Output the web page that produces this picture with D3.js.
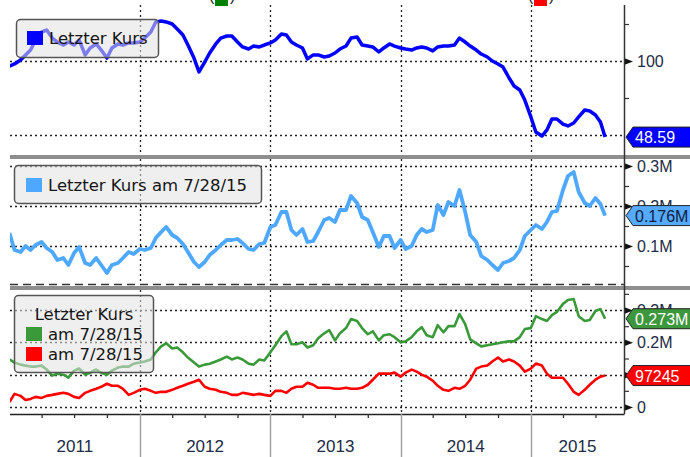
<!DOCTYPE html>
<html>
<head>
<meta charset="utf-8">
<script src="https://cdn.jsdelivr.net/npm/d3@7"></script>
<style>
body { margin: 0; background: #fff; }
svg text { font-family: "Liberation Sans", Arial, sans-serif; }
svg text.leg { font-family: "DejaVu Sans", Verdana, sans-serif; }
</style>
</head>
<body>
<svg width="690" height="457"></svg>
<script>
// sample dates: 1st and 15th of each month, Jan 2011 .. Jul 2015, plus last close 7/28/15
var dates = [];
d3.utcMonths(new Date(Date.UTC(2011, 0, 1)), new Date(Date.UTC(2015, 7, 1))).forEach(function (m) {
    dates.push(m);
    dates.push(d3.utcDay.offset(m, 14));
});
dates.push(new Date(Date.UTC(2015, 6, 28)));

// Letzter Kurs (price)
var price = [96.6, 98.0, 100.7, 104.1, 107.4, 114.2, 119.6, 120.9, 115.5, 112.8,
    110.8, 112.8, 110.8, 114.2, 104.1, 108.8, 111.5, 107.4, 102.0, 108.8,
    111.5, 110.8, 112.2, 112.2, 112.8, 115.5, 119.6, 126.4, 127.0, 126.4,
    125.0, 121.6, 117.6, 110.8, 102.0, 92.6, 99.3, 105.4, 111.5, 115.5,
    116.9, 116.9, 112.8, 109.5, 108.1, 110.1, 109.5, 110.8, 112.2, 114.2,
    118.2, 117.6, 112.8, 110.8, 108.8, 101.4, 104.1, 104.1, 102.7, 103.4,
    105.4, 108.1, 110.1, 115.5, 116.2, 110.8, 110.1, 109.5, 106.1, 108.8,
    111.5, 110.1, 108.8, 108.1, 107.4, 108.8, 109.5, 108.8, 106.8, 109.5,
    110.1, 110.1, 110.8, 115.5, 112.8, 110.1, 107.4, 104.7, 102.7, 100.0,
    98.0, 95.9, 88.5, 83.1, 80.4, 73.6, 62.2, 52.0, 49.3, 53.4,
    60.8, 60.8, 57.4, 56.1, 58.1, 62.2, 66.9, 66.2, 63.5, 58.8,
    48.59];

// Letzter Kurs am 7/28/15 (millions)
var volLight = [0.1325, 0.09, 0.085, 0.10, 0.09, 0.1025, 0.11, 0.095, 0.085, 0.065,
    0.07, 0.0525, 0.0825, 0.0975, 0.0575, 0.0525, 0.07, 0.0525, 0.0325, 0.0525,
    0.0575, 0.07, 0.085, 0.08, 0.0925, 0.09, 0.095, 0.12, 0.135, 0.1475,
    0.1275, 0.12, 0.105, 0.085, 0.06, 0.0475, 0.06, 0.0775, 0.09, 0.1025,
    0.115, 0.115, 0.1175, 0.1075, 0.0925, 0.09, 0.105, 0.1075, 0.1475, 0.1525,
    0.185, 0.185, 0.14, 0.1275, 0.1425, 0.11, 0.1125, 0.135, 0.165, 0.17,
    0.16, 0.19, 0.19, 0.225, 0.2075, 0.1725, 0.165, 0.135, 0.0975, 0.125,
    0.125, 0.095, 0.115, 0.0925, 0.10, 0.1275, 0.1425, 0.135, 0.14, 0.2025,
    0.1775, 0.21, 0.20, 0.24, 0.185, 0.1275, 0.11, 0.075, 0.065, 0.0525,
    0.04, 0.0575, 0.0625, 0.07, 0.09, 0.125, 0.14, 0.1525, 0.1425, 0.16,
    0.185, 0.1875, 0.24, 0.275, 0.285, 0.235, 0.2075, 0.20, 0.22, 0.205,
    0.176];

// lower panel (millions)
var volGreen = [0.147, 0.1375, 0.131, 0.128, 0.125, 0.125, 0.128, 0.116, 0.097, 0.103,
    0.10, 0.091, 0.1125, 0.119, 0.10, 0.106, 0.116, 0.106, 0.10, 0.1125,
    0.122, 0.125, 0.125, 0.134, 0.1375, 0.141, 0.147, 0.169, 0.1875, 0.197,
    0.181, 0.184, 0.169, 0.153, 0.1375, 0.125, 0.131, 0.134, 0.141, 0.147,
    0.156, 0.147, 0.153, 0.147, 0.134, 0.131, 0.147, 0.144, 0.169, 0.191,
    0.219, 0.234, 0.194, 0.194, 0.20, 0.184, 0.191, 0.2125, 0.228, 0.2375,
    0.206, 0.228, 0.244, 0.272, 0.266, 0.244, 0.225, 0.234, 0.206, 0.222,
    0.225, 0.216, 0.20, 0.203, 0.216, 0.234, 0.247, 0.222, 0.216, 0.253,
    0.231, 0.25, 0.25, 0.2875, 0.256, 0.209, 0.197, 0.1875, 0.191, 0.194,
    0.197, 0.20, 0.203, 0.203, 0.216, 0.241, 0.244, 0.281, 0.272, 0.266,
    0.284, 0.294, 0.319, 0.331, 0.334, 0.281, 0.266, 0.269, 0.297, 0.303,
    0.273];

var volRed = [0.0156, 0.0406, 0.0344, 0.0219, 0.025, 0.0313, 0.0281, 0.0344, 0.0375, 0.0406,
    0.0438, 0.0406, 0.0313, 0.0281, 0.0438, 0.05, 0.0563, 0.0625, 0.0719, 0.0656,
    0.0656, 0.0563, 0.0375, 0.0438, 0.0531, 0.0563, 0.05, 0.0438, 0.0469, 0.0469,
    0.0531, 0.0594, 0.0656, 0.0719, 0.0781, 0.0844, 0.0625, 0.0563, 0.0531, 0.0469,
    0.0438, 0.0375, 0.0375, 0.0438, 0.0406, 0.0375, 0.0406, 0.0375, 0.0344, 0.05,
    0.05, 0.0438, 0.0563, 0.0625, 0.0625, 0.075, 0.0688, 0.0594, 0.0594, 0.0594,
    0.0563, 0.0563, 0.0594, 0.0563, 0.0563, 0.0594, 0.0688, 0.0844, 0.1031, 0.1031,
    0.1031, 0.1063, 0.0938, 0.1063, 0.1156, 0.1094, 0.10, 0.0938, 0.0813, 0.0656,
    0.0531, 0.05, 0.0594, 0.0563, 0.0656, 0.0844, 0.1188, 0.125, 0.1281, 0.1406,
    0.1531, 0.1406, 0.1469, 0.1406, 0.1281, 0.1094, 0.1188, 0.1344, 0.1281, 0.1031,
    0.0906, 0.0906, 0.0906, 0.0719, 0.0469, 0.0375, 0.0531, 0.0688, 0.0844, 0.0938,
    0.0972];

var years = ["2011", "2012", "2013", "2014", "2015"];
var lastLabels = ["48.59", "0.176M", "0.273M", "97245"];

var svg = d3.select("svg");
var left = 10, right = 624;
var axisColor = "#222b45";

var x = d3.scaleUtc()
    .domain([new Date(Date.UTC(2011, 0, 1)), new Date(Date.UTC(2015, 8, 19))])
    .range([9.5, right]);

var y1 = d3.scaleLinear().domain([50, 100]).range([135, 61]);
var y2 = d3.scaleLinear().domain([0, 0.3]).range([286, 166]);
var y3 = d3.scaleLinear().domain([0, 0.3]).range([407, 310]);

var panels = [
    { top: 5, bottom: 155, y: y1, grid: [50, 100], minor: [75, 125], major: [100], fmt: d3.format("d") },
    { top: 159, bottom: 284, y: y2, grid: [0.1, 0.2, 0.3], minor: [0.05, 0.15, 0.25], major: [0.1, 0.2, 0.3], fmt: function (d) { return d3.format(".1f")(d) + "M"; } },
    { top: 290, bottom: 414, y: y3, grid: [0, 0.1, 0.2, 0.3], minor: [0.05, 0.15, 0.25, 0.35], major: [0, 0.1, 0.2, 0.3], fmt: function (d) { return d === 0 ? "0" : d3.format(".1f")(d) + "M"; } }
];

var yearStarts = [2012, 2013, 2014, 2015].map(function (yr) { return new Date(Date.UTC(yr, 0, 1)); });

panels.forEach(function (p, i) {
    svg.append("clipPath").attr("id", "clip" + i)
        .append("rect").attr("x", left).attr("y", p.top)
        .attr("width", right - left).attr("height", p.bottom - p.top);

    // horizontal grid
    svg.append("g").selectAll("line").data(p.grid).enter().append("line")
        .attr("x1", left).attr("x2", right)
        .attr("y1", function (d) { return Math.round(p.y(d)) + 0.5; })
        .attr("y2", function (d) { return Math.round(p.y(d)) + 0.5; })
        .attr("stroke", "#222").attr("stroke-width", 1.3)
        .attr("stroke-dasharray", "2,3");

    // vertical grid at years
    svg.append("g").selectAll("line").data(yearStarts).enter().append("line")
        .attr("x1", function (d) { return Math.round(x(d)) + 0.5; })
        .attr("x2", function (d) { return Math.round(x(d)) + 0.5; })
        .attr("y1", p.top).attr("y2", p.bottom)
        .attr("stroke", "#222").attr("stroke-width", 1.3)
        .attr("stroke-dasharray", "2,3");

    // minor ticks on right axis
    svg.append("g")
        .attr("transform", "translate(" + right + ",0)")
        .call(d3.axisRight(p.y).tickValues(p.minor).tickSize(5).tickFormat(""))
        .call(function (g) {
            g.select(".domain").remove();
            g.selectAll("line").attr("stroke", "#333").attr("stroke-width", 1.2);
        });

    // major ticks with arrows and labels
    var ax = svg.append("g")
        .attr("transform", "translate(" + right + ",0)")
        .call(d3.axisRight(p.y).tickValues(p.major).tickSize(0).tickPadding(13).tickFormat(p.fmt));
    ax.select(".domain").remove();
    ax.selectAll("text").attr("fill", axisColor).attr("font-size", 16)
        .style("font-family", "'Liberation Sans', Arial, sans-serif");
    ax.selectAll(".tick").append("path")
        .attr("d", "M0,-3.5L9,0L0,3.5Z").attr("fill", "#111");
});

// separators
svg.append("line").attr("x1", left).attr("x2", right).attr("y1", 284.5).attr("y2", 284.5)
    .attr("stroke", "#333").attr("stroke-width", 1.5).attr("stroke-dasharray", "8,5");
svg.append("rect").attr("x", left).attr("y", 155).attr("width", 690 - left).attr("height", 4).attr("fill", "#8e8e8e");
svg.append("rect").attr("x", left).attr("y", 286).attr("width", 690 - left).attr("height", 4).attr("fill", "#8e8e8e");

// right axis line
svg.append("line").attr("x1", right + 0.5).attr("x2", right + 0.5).attr("y1", 5).attr("y2", 414)
    .attr("stroke", "#333").attr("stroke-width", 1.5);

// bottom axis
var xAxis = svg.append("g")
    .attr("transform", "translate(0,414)")
    .call(d3.axisBottom(x).ticks(d3.utcMonth.every(3)).tickSize(4).tickSizeOuter(0).tickFormat(""));
xAxis.select(".domain").attr("stroke", "#222").attr("stroke-width", 1.5);
xAxis.selectAll(".tick line").attr("stroke", "#333").attr("stroke-width", 1.3);
xAxis.selectAll(".tick").filter(function (d) { return d.getUTCMonth() === 0; }).remove();

svg.append("g").selectAll("line").data(yearStarts).enter().append("line")
    .attr("x1", function (d) { return Math.round(x(d)) + 0.5; })
    .attr("x2", function (d) { return Math.round(x(d)) + 0.5; })
    .attr("y1", 414).attr("y2", 457)
    .attr("stroke", "#a0a0a0").attr("stroke-width", 1.5);

svg.append("g").selectAll("text").data(years).enter().append("text")
    .attr("x", function (d) {
        var a = Math.max(left, x(new Date(Date.UTC(+d, 0, 1))));
        var b = Math.min(right, x(new Date(Date.UTC(+d + 1, 0, 1))));
        return (a + b) / 2;
    })
    .attr("y", 452)
    .attr("text-anchor", "middle")
    .attr("font-size", 17)
    .attr("fill", axisColor)
    .text(function (d) { return d; });

// series
function drawLine(values, yScale, clipIdx, color, width) {
    var line = d3.line()
        .x(function (d, i) { return x(dates[i]); })
        .y(function (d) { return yScale(d); });
    svg.append("path")
        .datum(values)
        .attr("clip-path", "url(#clip" + clipIdx + ")")
        .attr("fill", "none")
        .attr("stroke", color)
        .attr("stroke-width", width)
        .attr("stroke-linejoin", "round")
        .attr("d", line);
}
drawLine(price, y1, 0, "#0000ff", 3.5);
drawLine(volLight, y2, 1, "#4ea8ff", 3.8);
drawLine(volGreen, y3, 2, "#3a9a3a", 2.6);
drawLine(volRed, y3, 2, "#ff0000", 2.6);

// legends
function legendBox(x0, y0, w, h) {
    svg.append("rect").attr("x", x0).attr("y", y0).attr("width", w).attr("height", h)
        .attr("rx", 4).attr("fill", "#e2e2e2").attr("fill-opacity", 0.55)
        .attr("stroke", "#555").attr("stroke-width", 1.5);
}
function legendItem(x0, y0, color, label) {
    svg.append("rect").attr("x", x0).attr("y", y0).attr("width", 16).attr("height", 14).attr("fill", color);
    svg.append("text").attr("class", "leg").attr("x", x0 + 22).attr("y", y0 + 13)
        .attr("font-size", 16.5).attr("fill", "#151515").text(label);
}
legendBox(16.5, 19.5, 142, 38);
legendItem(27, 31, "#0000ff", "Letzter Kurs");

legendBox(14.5, 165.5, 247, 38);
legendItem(26, 178, "#4ea8ff", "Letzter Kurs am 7/28/15");

legendBox(14.5, 295.5, 139, 77);
svg.append("text").attr("class", "leg").attr("x", 84).attr("y", 320).attr("text-anchor", "middle")
    .attr("font-size", 16.5).attr("fill", "#151515").text("Letzter Kurs");
legendItem(26, 327, "#3a9a3a", "am 7/28/15");
legendItem(26, 347, "#ff0000", "am 7/28/15");

// cut-off legend pieces at the top edge
[[215, "#008000"], [534, "#ff0000"]].forEach(function (d) {
    svg.append("rect").attr("x", d[0]).attr("y", -8).attr("width", 13).attr("height", 14).attr("fill", d[1]);
    svg.append("text").attr("x", d[0] - 6).attr("y", 1).attr("font-size", 16).attr("fill", "#222").text("(");
    svg.append("text").attr("x", d[0] + 15).attr("y", 1).attr("font-size", 16).attr("fill", "#222").text(")");
});

// last value tags
var tags = [
    { v: price[price.length - 1], y: y1, fill: "#0000ff", txt: "#fff", label: lastLabels[0] },
    { v: volLight[volLight.length - 1], y: y2, fill: "#55aaff", txt: "#10203a", label: lastLabels[1] },
    { v: volGreen[volGreen.length - 1], y: y3, fill: "#3d973d", txt: "#fff", label: lastLabels[2] },
    { v: volRed[volRed.length - 1], y: y3, fill: "#ff0000", txt: "#fff", label: lastLabels[3] }
];
tags.forEach(function (t) {
    var cy = t.y(t.v);
    var g = svg.append("g").attr("transform", "translate(0," + cy + ")");
    g.append("path")
        .attr("d", "M626,0L633,-10L691,-10L691,10L633,10Z")
        .attr("fill", t.fill).attr("stroke", "#222").attr("stroke-width", 1);
    g.append("text").attr("x", 635).attr("y", 6).attr("font-size", 16)
        .attr("fill", t.txt).text(t.label);
});
</script>
</body>
</html>
